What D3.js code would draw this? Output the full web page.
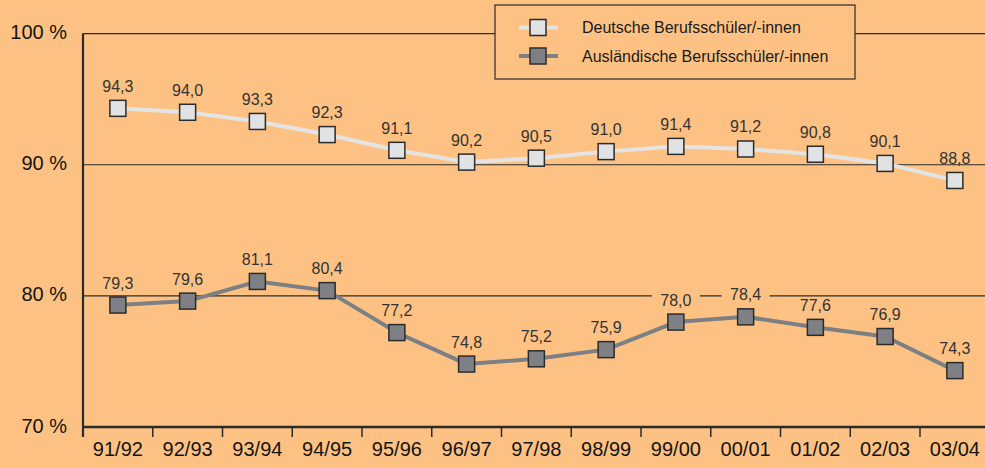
<!DOCTYPE html>
<html lang="de">
  <head>
    <meta charset="utf-8">
    <title>Berufsschüler/-innen</title>
    <style>
      html, body { margin: 0; padding: 0; background: #fdc283; }
      svg { display: block; font-family: "Liberation Sans", Arial, sans-serif; }
      .axis text { fill: #141414; font-size: 20px; }
      .val { fill: #333; font-size: 16px; }
      .legend text { fill: #1a1a1a; font-size: 16px; }
    </style>
  </head>
  <body>
    <div id="chart"></div>
    <script src="https://d3js.org/d3.v7.min.js"></script>
    <script>
    // data
    var years = ["91/92", "92/93", "93/94", "94/95", "95/96", "96/97", "97/98",
                 "98/99", "99/00", "00/01", "01/02", "02/03", "03/04"];
    var deutsche = [94.3, 94.0, 93.3, 92.3, 91.1, 90.2, 90.5, 91.0, 91.4, 91.2, 90.8, 90.1, 88.8];
    var auslaender = [79.3, 79.6, 81.1, 80.4, 77.2, 74.8, 75.2, 75.9, 78.0, 78.4, 77.6, 76.9, 74.3];
    var yTicks = [70, 80, 90, 100];
    var seriesNames = ["Deutsche Berufsschüler/-innen", "Ausländische Berufsschüler/-innen"];

    var width = 985, height = 468;
    var plotLeft = 83, plotTop = 33.6, plotBottom = 427, band = 69.75;
    var ink = "#2b2b2b";

    var series = [
      { name: seriesNames[0], values: deutsche, line: "#e4e4e4", fill: "#e1e2e4" },
      { name: seriesNames[1], values: auslaender, line: "#7c7f84", fill: "#7f8085" }
    ];

    var svg = d3.select("#chart").append("svg")
        .attr("width", width)
        .attr("height", height);

    svg.append("rect").attr("width", width).attr("height", height).attr("fill", "#fdc283");

    var x = d3.scaleBand().domain(years).range([plotLeft, plotLeft + band * years.length]);
    var y = d3.scaleLinear().domain([70, 100]).range([plotBottom, plotTop]);

    // grid lines at 80 / 90
    svg.append("g").selectAll("line")
      .data([80, 90])
      .enter().append("line")
        .attr("x1", plotLeft).attr("x2", width)
        .attr("y1", function(d) { return y(d); })
        .attr("y2", function(d) { return y(d); })
        .attr("stroke", ink).attr("stroke-width", 1.2);

    // top frame line, broken by the legend box
    var legX = 495, legW = 360, legY = 5, legH = 74;
    svg.append("g").selectAll("line")
      .data([[plotLeft, legX], [legX + legW, width]])
      .enter().append("line")
        .attr("x1", function(d) { return d[0]; })
        .attr("x2", function(d) { return d[1]; })
        .attr("y1", y(100)).attr("y2", y(100))
        .attr("stroke", ink).attr("stroke-width", 1.2);

    // y axis
    var yAxis = svg.append("g")
        .attr("class", "axis")
        .attr("transform", "translate(" + plotLeft + ",0)")
        .call(d3.axisLeft(y).tickValues(yTicks).tickSize(0).tickPadding(16)
          .tickFormat(function(d) { return d + " %"; }));
    yAxis.select(".domain").remove();
    yAxis.selectAll("text").attr("dy", "0.25em");
    svg.append("line")
        .attr("x1", plotLeft).attr("x2", plotLeft)
        .attr("y1", y(100)).attr("y2", plotBottom + 10)
        .attr("stroke", ink).attr("stroke-width", 2.2);

    // x axis
    var xAxis = svg.append("g")
        .attr("class", "axis")
        .attr("transform", "translate(0," + plotBottom + ")")
        .call(d3.axisBottom(x).tickSize(0).tickPadding(15));
    xAxis.select(".domain").remove();
    svg.append("line")
        .attr("x1", plotLeft).attr("x2", width)
        .attr("y1", plotBottom).attr("y2", plotBottom)
        .attr("stroke", ink).attr("stroke-width", 2.5);
    svg.append("g").selectAll("line")
      .data(years)
      .enter().append("line")
        .attr("x1", function(d) { return x(d); })
        .attr("x2", function(d) { return x(d); })
        .attr("y1", plotBottom).attr("y2", plotBottom + 10)
        .attr("stroke", ink).attr("stroke-width", 1.5);

    var cx = function(d, i) { return x(years[i]) + x.bandwidth() / 2; };
    var fmt = function(v) { return d3.format(".1f")(v).replace(".", ","); };

    // value labels; the small background only knocks out a grid line running through the digits
    series.forEach(function(s) {
      var g = svg.append("g");
      g.selectAll("rect")
        .data(s.values)
        .enter().append("rect")
          .attr("x", function(d, i) { return cx(d, i) - 24; })
          .attr("y", function(d) { return y(d) - 30; })
          .attr("width", 48).attr("height", 13)
          .attr("fill", "#fdc283");
      g.selectAll("text")
        .data(s.values)
        .enter().append("text")
          .attr("class", "val")
          .attr("x", cx)
          .attr("y", function(d) { return y(d) - 16.5; })
          .attr("text-anchor", "middle")
          .text(fmt);
    });

    var line = d3.line()
        .x(cx)
        .y(function(d) { return y(d); });

    series.forEach(function(s) {
      svg.append("path")
        .datum(s.values)
        .attr("d", line)
        .attr("fill", "none")
        .attr("stroke", s.line)
        .attr("stroke-width", 4)
        .attr("stroke-linejoin", "round");

      svg.append("g").selectAll("rect")
        .data(s.values)
        .enter().append("rect")
          .attr("x", function(d, i) { return cx(d, i) - 8; })
          .attr("y", function(d) { return y(d) - 8; })
          .attr("width", 16).attr("height", 16)
          .attr("fill", s.fill)
          .attr("stroke", ink)
          .attr("stroke-width", 1.5);
    });

    // legend
    var legend = svg.append("g").attr("class", "legend");
    legend.append("rect")
        .attr("x", legX).attr("y", legY)
        .attr("width", legW).attr("height", legH)
        .attr("fill", "#fdc283")
        .attr("stroke", ink).attr("stroke-width", 1.2);

    var item = legend.selectAll("g.item")
      .data(series)
      .enter().append("g")
        .attr("class", "item")
        .attr("transform", function(d, i) { return "translate(0," + (27.5 + i * 28.5) + ")"; });
    item.append("line")
        .attr("x1", 519).attr("x2", 558)
        .attr("stroke", function(d) { return d.line; })
        .attr("stroke-width", 4);
    item.append("rect")
        .attr("x", 530).attr("y", -8)
        .attr("width", 16).attr("height", 16)
        .attr("fill", function(d) { return d.fill; })
        .attr("stroke", ink).attr("stroke-width", 1.5);
    item.append("text")
        .attr("x", 582).attr("y", 5.5)
        .text(function(d) { return d.name; });
    </script>
  </body>
</html>
